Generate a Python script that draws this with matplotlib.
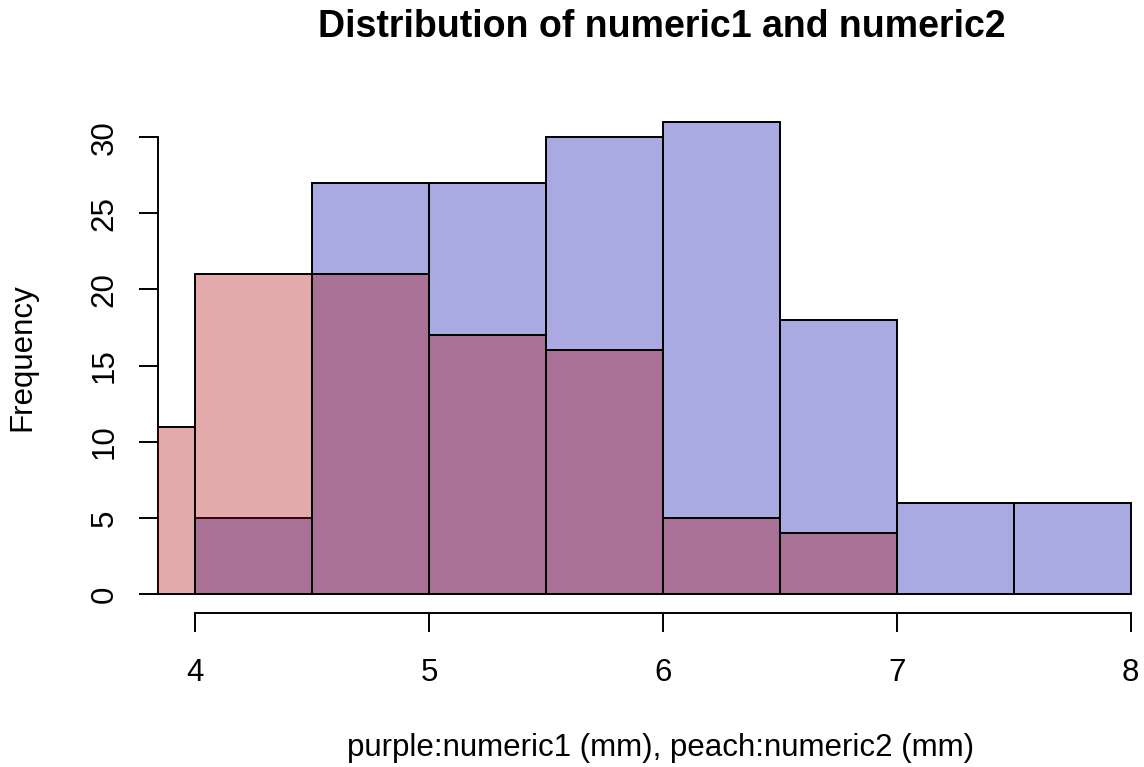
import numpy as np
import matplotlib.pyplot as plt

plt.rcParams['font.family'] = ['Liberation Sans', 'DejaVu Sans']

# histogram breaks and counts
edges1 = [4.0, 4.5, 5.0, 5.5, 6.0, 6.5, 7.0, 7.5, 8.0]
counts1 = [5, 27, 27, 30, 31, 18, 6, 6]
edges2 = [3.5, 4.0, 4.5, 5.0, 5.5, 6.0, 6.5, 7.0]
counts2 = [11, 21, 21, 17, 16, 5, 4]

xticks = [4, 5, 6, 7, 8]
yticks = [0, 5, 10, 15, 20, 25, 30]

purple = (0.0, 0.0, 2 / 3, 1 / 3)
peach = (2 / 3, 0.0, 0.0, 1 / 3)

fig = plt.figure(figsize=(11.44, 7.67), dpi=100)
ax = fig.add_axes([0.1381, 0.2008, 0.8829, 0.6649])

ax.bar(edges1[:-1], counts1, width=np.diff(edges1), align='edge',
       facecolor=purple, edgecolor='black', linewidth=1.4, zorder=1)
ax.bar(edges2[:-1], counts2, width=np.diff(edges2), align='edge',
       facecolor=peach, edgecolor='black', linewidth=1.4, zorder=2)

ax.set_xlim(3.84, 8.16)
ax.set_ylim(-1.24, 32.24)

# R style axes: only spanning the tick range
for s in ['top', 'right']:
    ax.spines[s].set_visible(False)
ax.spines['left'].set_bounds(0, 30)
ax.spines['bottom'].set_bounds(4, 8)
for s in ['left', 'bottom']:
    ax.spines[s].set_linewidth(1.4)
    ax.spines[s].set_zorder(1.5)

ax.set_xticks(xticks)
ax.set_yticks(yticks)
ax.tick_params(length=13.7, width=1.4, labelsize=22.5)
ax.tick_params(axis='x', pad=18.5)
ax.tick_params(axis='y', pad=14, labelrotation=90)
for lab in ax.get_yticklabels():
    lab.set_verticalalignment('center')

fig.text(662 / 1144, 1 - 37 / 767, 'Distribution of numeric1 and numeric2',
         ha='center', va='baseline', fontsize=27, fontweight='bold')
fig.text(661 / 1144, 1 - 756 / 767, 'purple:numeric1 (mm), peach:numeric2 (mm)',
         ha='center', va='baseline', fontsize=22.5)
fig.text(37 / 1144, 1 - 357 / 767, 'Frequency', rotation=90,
         ha='right', va='center', fontsize=22.5)

fig.savefig('out.png', dpi=100)
